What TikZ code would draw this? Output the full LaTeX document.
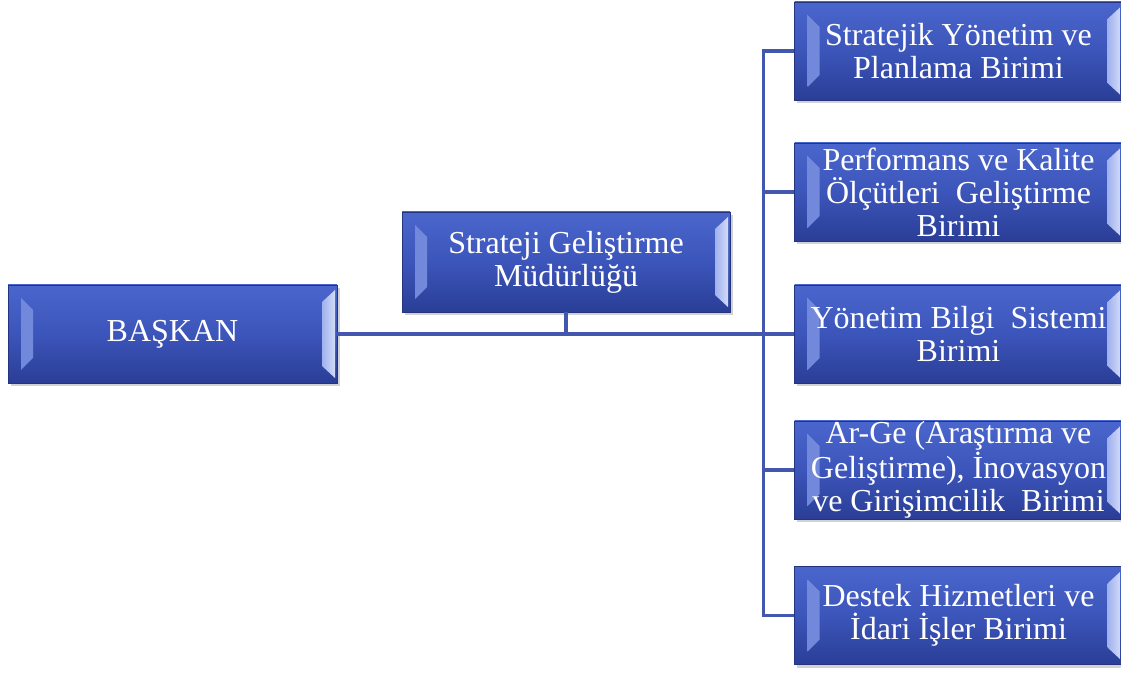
\documentclass[tikz,border=0pt]{standalone}
\usepackage{fontspec}
\setmainfont{Liberation Serif}
\usetikzlibrary{shadows}
\definecolor{boxtop}{HTML}{4A66CC}
\definecolor{boxmid}{HTML}{3C55BA}
\definecolor{boxbot}{HTML}{2A3E96}
\definecolor{boxedge}{HTML}{24357F}
\definecolor{linecol}{HTML}{4457AE}
\definecolor{bevLa}{HTML}{6F86DA}
\definecolor{bevLb}{HTML}{A4B4EE}
\definecolor{bevRa}{HTML}{9FB1EE}
\definecolor{bevRb}{HTML}{D2DBF8}
\tikzset{
  unitbox/.style={draw=boxedge, line width=0.6pt,
    top color=boxtop, bottom color=boxbot, middle color=boxmid,
    minimum width=246pt, minimum height=73.5pt, inner sep=0pt,
    text=white, align=center, font=\fontsize{24}{24.8}\selectfont,
    drop shadow={opacity=0.35, shadow xshift=2.2pt, shadow yshift=-2.6pt},
    path picture={
      \shade[left color=bevLa, right color=bevLb]
        ([shift={(9.75pt,-9.75pt)}]path picture bounding box.north west) --
        ([shift={(18.75pt,-18.75pt)}]path picture bounding box.north west) --
        ([shift={(18.75pt,18.75pt)}]path picture bounding box.south west) --
        ([shift={(9.75pt,9.75pt)}]path picture bounding box.south west) -- cycle;
      \shade[left color=bevRa, right color=bevRb]
        ([shift={(-11.25pt,-12.75pt)}]path picture bounding box.north east) --
        ([shift={(-1.5pt,-3.75pt)}]path picture bounding box.north east) --
        ([shift={(-1.5pt,3.75pt)}]path picture bounding box.south east) --
        ([shift={(-11.25pt,12.75pt)}]path picture bounding box.south east) -- cycle;
    }},
  conn/.style={draw=linecol, line width=2.3pt}
}
\begin{document}
\begin{tikzpicture}[x=0.75pt, y=-0.75pt]
\fill[white] (0,0) rectangle (1121,673);
\useasboundingbox (0,0) rectangle (1121,673);

\node[unitbox, minimum width=246.75pt] (bk) at (172.5,334) {BAŞKAN};
\node[unitbox, minimum height=75pt] (sg) at (566,262) {Strateji Geliştirme\\Müdürlüğü};

\node[unitbox] (r1) at (958.5,51) {Stratejik Yönetim ve\\Planlama Birimi};
\node[unitbox] (r2) at (958.5,192) {Performans ve Kalite\\Ölçütleri~ Geliştirme\\Birimi};
\node[unitbox] (r3) at (958.5,334) {Yönetim Bilgi~ Sistemi\\Birimi};
\node[unitbox] (r4) at (958.5,470) {Ar-Ge (Araştırma ve\\Geliştirme), İnovasyon\\ve Girişimcilik~ Birimi};
\node[unitbox] (r5) at (958.5,615.5) {Destek Hizmetleri ve\\İdari İşler Birimi};

\draw[conn] (bk.east) -- (r3.west);
\draw[conn] (sg.south) -- (sg.south |- bk.east);
\draw[conn] (r1.west) -- ++(-31,0) coordinate (tt) |- (r5.west);
\draw[conn] (r2.west) -- (r2.west -| tt);
\draw[conn] (r4.west) -- (r4.west -| tt);
\end{tikzpicture}
\end{document}
